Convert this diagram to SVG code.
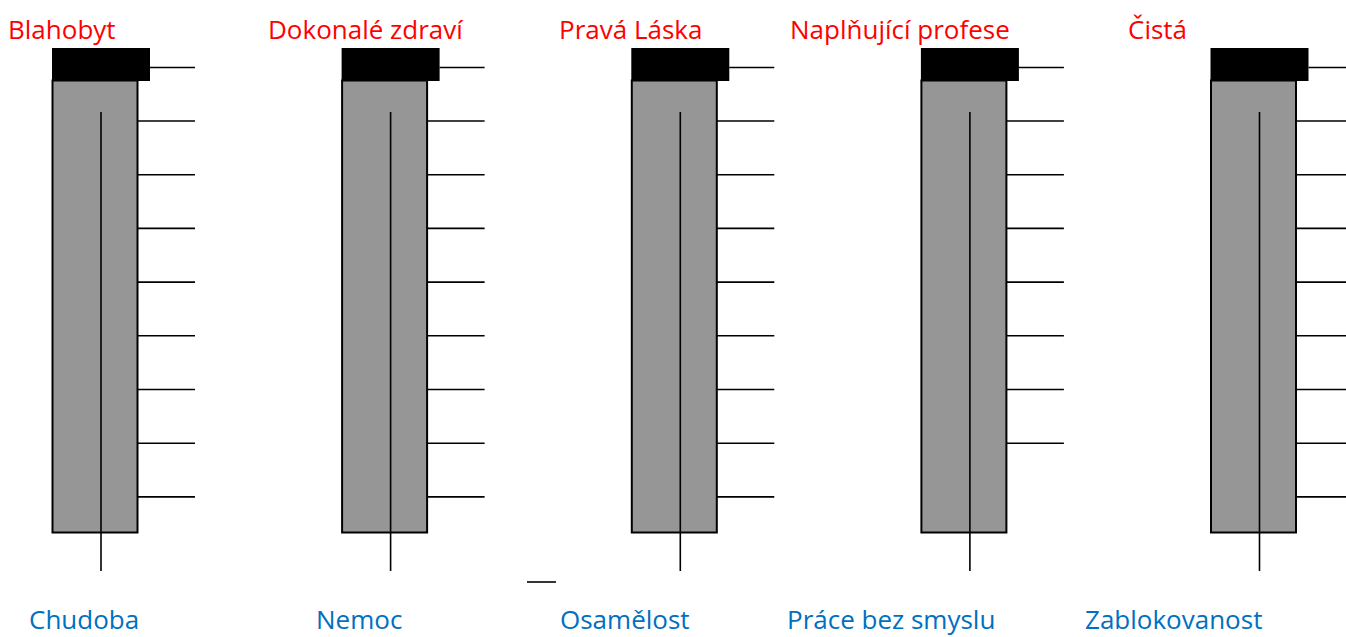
<svg xmlns="http://www.w3.org/2000/svg" width="1346" height="637" viewBox="0 0 1346 637">
<style>
.top{fill:#000}
.bar{fill:#969696;stroke:#000;stroke-width:2}
.ln{stroke:#000;stroke-width:1.6;fill:none}
.lt{font-family:"Open Sans","Liberation Sans",sans-serif;font-size:26px;fill:#FF0000}
.lb{font-family:"Open Sans","Liberation Sans",sans-serif;font-size:26px;fill:#0070C0}
</style>
<defs>
<g id="col">
<rect class="bar" x="52.5" y="80.5" width="85" height="452"/>
<rect class="top" x="52" y="48" width="98" height="33"/>
<line class="ln" x1="101" y1="112" x2="101" y2="571"/>
<line class="ln" x1="150" y1="67.5" x2="195" y2="67.5"/>
<line class="ln" x1="137.5" y1="121" x2="195" y2="121"/>
<line class="ln" x1="137.5" y1="174.7" x2="195" y2="174.7"/>
<line class="ln" x1="137.5" y1="228.4" x2="195" y2="228.4"/>
<line class="ln" x1="137.5" y1="282.1" x2="195" y2="282.1"/>
<line class="ln" x1="137.5" y1="335.8" x2="195" y2="335.8"/>
<line class="ln" x1="137.5" y1="389.5" x2="195" y2="389.5"/>
<line class="ln" x1="137.5" y1="443.2" x2="195" y2="443.2"/>
</g>
</defs>
<g id="node-blahobyt">
<use href="#col"/>
<line class="ln" x1="137.5" y1="496.9" x2="195" y2="496.9"/>
<text class="lt" x="8" y="39">Blahobyt</text>
<text class="lb" x="29" y="629">Chudoba</text>
</g>
<g id="node-zdravi" transform="translate(289.6,0)">
<use href="#col"/>
<line class="ln" x1="137.5" y1="496.9" x2="195" y2="496.9"/>
</g>
<g id="node-zdravi-labels">
<text class="lt" x="268" y="39">Dokonalé zdraví</text>
<text class="lb" x="316" y="629">Nemoc</text>
</g>
<g id="node-laska" transform="translate(579.3,0)">
<use href="#col"/>
<line class="ln" x1="137.5" y1="496.9" x2="195" y2="496.9"/>
</g>
<g id="node-laska-labels">
<text class="lt" x="559" y="39">Pravá Láska</text>
<text class="lb" x="560" y="629">Osamělost</text>
</g>
<g id="node-profese" transform="translate(868.9,0)">
<use href="#col"/>
</g>
<g id="node-profese-labels">
<text class="lt" x="790" y="39">Naplňující profese</text>
<text class="lb" x="787" y="629">Práce bez smyslu</text>
</g>
<g id="node-cista" transform="translate(1158.5,0)">
<use href="#col"/>
<line class="ln" x1="137.5" y1="496.9" x2="195" y2="496.9"/>
</g>
<g id="node-cista-labels">
<text class="lt" x="1128" y="39">Čistá</text>
<text class="lb" x="1085" y="629">Zablokovanost</text>
</g>
<g id="connectors">
<line class="ln" x1="527" y1="582" x2="556" y2="582"/>
</g>
</svg>
